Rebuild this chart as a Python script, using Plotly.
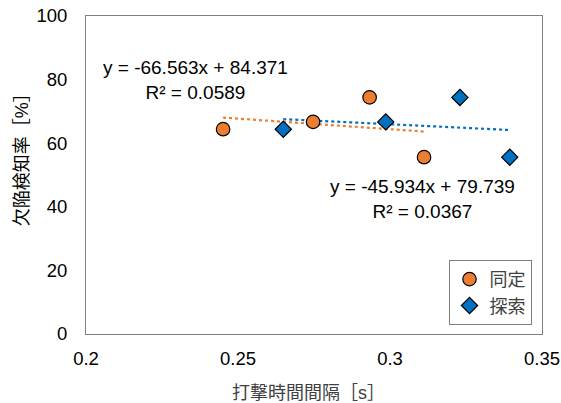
import plotly.graph_objects as go
import numpy as np

# 同定 (identification)
x_dotei = [0.2451, 0.2747, 0.2933, 0.3112]
y_dotei = [64.4, 66.7, 74.4, 55.6]
# 探索 (search)
x_tansaku = [0.2649, 0.2986, 0.3230, 0.3394]
y_tansaku = [64.4, 66.7, 74.4, 55.6]

fit_dotei = (-66.563, 84.371, 0.0589)
fit_tansaku = (-45.934, 79.739, 0.0367)

x_ticks = [0.2, 0.25, 0.3, 0.35]
x_tick_labels = ["0.2", "0.25", "0.3", "0.35"]
y_ticks = [0, 20, 40, 60, 80, 100]

x_title = "打撃時間間隔［s］"
y_title = "欠陥検知率［%］"

ORANGE = "#ED7D31"
BLUE = "#0070C0"
FONT = "Arial, 'Liberation Sans', 'Noto Sans CJK JP', sans-serif"

fig = go.Figure()

def trend(xs, fit):
    xx = np.array([min(xs), max(xs)])
    return xx, fit[0] * xx + fit[1]

tx, ty = trend(x_dotei, fit_dotei)
fig.add_trace(go.Scatter(x=tx, y=ty, mode="lines", showlegend=False,
                         line=dict(color=ORANGE, width=2.2, dash="dot"), hoverinfo="skip"))
tx, ty = trend(x_tansaku, fit_tansaku)
fig.add_trace(go.Scatter(x=tx, y=ty, mode="lines", showlegend=False,
                         line=dict(color=BLUE, width=2.2, dash="dot"), hoverinfo="skip"))

fig.add_trace(go.Scatter(x=x_dotei, y=y_dotei, mode="markers", name="同定",
                         marker=dict(symbol="circle", size=13.5, color=ORANGE,
                                     line=dict(color="#000000", width=1.2))))
fig.add_trace(go.Scatter(x=x_tansaku, y=y_tansaku, mode="markers", name="探索",
                         marker=dict(symbol="diamond", size=12.5, color=BLUE,
                                     line=dict(color="#000000", width=1.2))))

def eq_text(fit):
    return f"y = {fit[0]}x + {fit[1]}<br>R² = {fit[2]}"

fig.add_annotation(x=0.2359, y=79.9, xref="x", yref="y", showarrow=False,
                   text=eq_text(fit_dotei), align="center",
                   font=dict(size=19, color="#000000", family=FONT))
fig.add_annotation(x=0.3108, y=42.3, xref="x", yref="y", showarrow=False,
                   text=eq_text(fit_tansaku), align="center",
                   font=dict(size=19, color="#000000", family=FONT))

# axis titles
fig.add_annotation(x=-0.1395, y=0.563, xref="paper", yref="paper", showarrow=False,
                   text=y_title, textangle=-90, xanchor="center", yanchor="middle",
                   font=dict(size=18, color="#000000", family=FONT))
fig.add_annotation(x=0.489, y=-0.1855, xref="paper", yref="paper", showarrow=False,
                   text=x_title, xanchor="center", yanchor="middle",
                   font=dict(size=18, color="#404040", family=FONT))

fig.update_layout(
    width=561, height=403,
    margin=dict(l=86, r=19, t=16, b=69),
    paper_bgcolor="white", plot_bgcolor="white",
    font=dict(family=FONT, size=18.5, color="#000000"),
    legend=dict(x=0.977, y=0.233, xanchor="right", yanchor="top",
                bordercolor="#7f7f7f", borderwidth=1, bgcolor="white",
                font=dict(size=18, color="#404040"), itemwidth=30,
                tracegroupgap=0),
    xaxis=dict(range=[0.2, 0.35], tickvals=x_ticks, ticktext=x_tick_labels,
               showgrid=False, zeroline=False, showline=True, mirror=True,
               linecolor="#808080", linewidth=1, ticks="", automargin=False,
               ticklabelstandoff=8),
    yaxis=dict(range=[0, 100], tickvals=y_ticks,
               showgrid=False, zeroline=False, showline=True, mirror=True,
               linecolor="#808080", linewidth=1, ticks="", automargin=False,
               ticklabelstandoff=14),
)

fig.write_html("out.html", config={"displayModeBar": False},
               post_script="document.body.style.margin='0';")
